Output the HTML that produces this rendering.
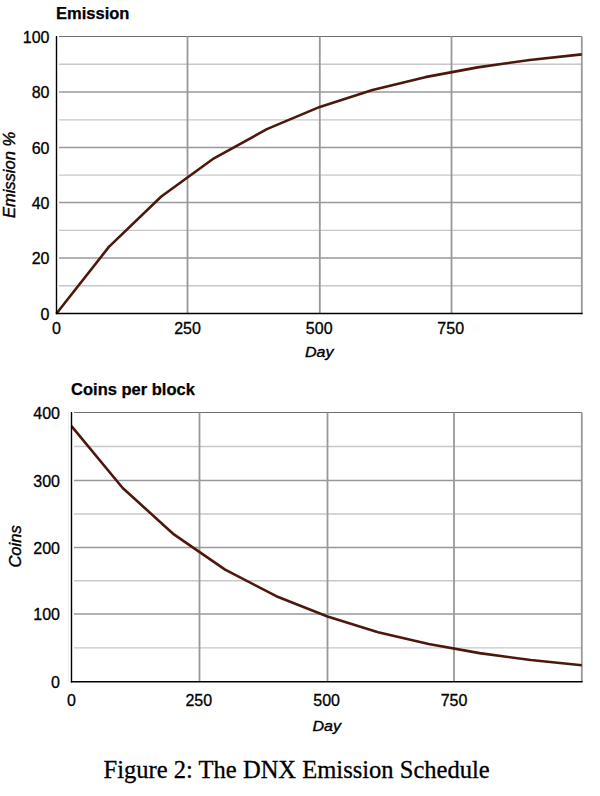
<!DOCTYPE html>
<html><head><meta charset="utf-8"><style>
html,body{margin:0;padding:0;background:#fff;}
body{width:600px;height:796px;overflow:hidden;position:relative;}
svg{position:absolute;left:0;top:0;}
.lab{font-family:"Liberation Sans",sans-serif;font-size:16px;fill:#000;stroke:#000;stroke-width:0.3;}
.it{font-family:"Liberation Sans",sans-serif;font-size:16px;font-style:italic;fill:#000;stroke:#000;stroke-width:0.4;}
.yt{font-size:16.5px;}
.ttl{font-family:"Liberation Sans",sans-serif;font-size:16.5px;font-weight:bold;fill:#000;stroke:#000;stroke-width:0.25;}
.cap{font-family:"Liberation Serif",serif;font-size:24.55px;fill:#000;stroke:#000;stroke-width:0.3;}
</style></head><body>
<svg width="600" height="796" viewBox="0 0 600 796">
<line x1="59.00" y1="285.75" x2="581.80" y2="285.75" stroke="#c8c8c8" stroke-width="1.3"/>
<line x1="59.00" y1="258.00" x2="581.80" y2="258.00" stroke="#989898" stroke-width="1.5"/>
<line x1="59.00" y1="230.30" x2="581.80" y2="230.30" stroke="#c8c8c8" stroke-width="1.3"/>
<line x1="59.00" y1="202.60" x2="581.80" y2="202.60" stroke="#989898" stroke-width="1.5"/>
<line x1="59.00" y1="175.10" x2="581.80" y2="175.10" stroke="#c8c8c8" stroke-width="1.3"/>
<line x1="59.00" y1="147.60" x2="581.80" y2="147.60" stroke="#989898" stroke-width="1.5"/>
<line x1="59.00" y1="119.80" x2="581.80" y2="119.80" stroke="#c8c8c8" stroke-width="1.3"/>
<line x1="59.00" y1="92.00" x2="581.80" y2="92.00" stroke="#989898" stroke-width="1.5"/>
<line x1="59.00" y1="64.25" x2="581.80" y2="64.25" stroke="#c8c8c8" stroke-width="1.3"/>
<line x1="59.00" y1="36.50" x2="581.80" y2="36.50" stroke="#707070" stroke-width="1.2"/>
<line x1="187.50" y1="36.50" x2="187.50" y2="313.50" stroke="#999999" stroke-width="1.8"/>
<line x1="319.80" y1="36.50" x2="319.80" y2="313.50" stroke="#999999" stroke-width="1.8"/>
<line x1="451.50" y1="36.50" x2="451.50" y2="313.50" stroke="#999999" stroke-width="1.8"/>
<line x1="581.80" y1="36.50" x2="581.80" y2="313.50" stroke="#999999" stroke-width="1.8"/>
<polyline points="56.50,313.50 108.90,246.92 161.30,196.44 213.96,158.32 266.88,129.15 319.80,106.89 372.48,89.97 425.16,77.14 477.56,67.39 529.68,59.97 581.80,54.34" fill="none" stroke="#4e170c" stroke-width="2.6" stroke-linejoin="round"/>
<line x1="56.50" y1="36.00" x2="56.50" y2="314.20" stroke="#000" stroke-width="1.4"/>
<line x1="55.80" y1="313.50" x2="582.70" y2="313.50" stroke="#000" stroke-width="1.4"/>
<text x="49.5" y="319.80" text-anchor="end" class="lab">0</text>
<text x="49.5" y="264.30" text-anchor="end" class="lab">20</text>
<text x="49.5" y="208.90" text-anchor="end" class="lab">40</text>
<text x="49.5" y="153.90" text-anchor="end" class="lab">60</text>
<text x="49.5" y="98.30" text-anchor="end" class="lab">80</text>
<text x="49.5" y="42.80" text-anchor="end" class="lab">100</text>
<text x="56.50" y="334" text-anchor="middle" class="lab">0</text>
<text x="187.50" y="334" text-anchor="middle" class="lab">250</text>
<text x="319.20" y="334" text-anchor="middle" class="lab">500</text>
<text x="450.70" y="334" text-anchor="middle" class="lab">750</text>
<text x="0" y="0" text-anchor="middle" class="it" transform="translate(319.15 357.3) scale(1 0.95)">Day</text>
<text x="56.1" y="18.7" class="ttl">Emission</text>
<text x="15" y="175.00" text-anchor="middle" class="it yt" transform="rotate(-90 15 175.00)">Emission %</text>
<line x1="68.50" y1="412.00" x2="68.50" y2="682.00" stroke="#efefef" stroke-width="1"/>
<line x1="74.00" y1="647.90" x2="581.80" y2="647.90" stroke="#c8c8c8" stroke-width="1.3"/>
<line x1="74.00" y1="614.00" x2="581.80" y2="614.00" stroke="#989898" stroke-width="1.5"/>
<line x1="74.00" y1="580.75" x2="581.80" y2="580.75" stroke="#c8c8c8" stroke-width="1.3"/>
<line x1="74.00" y1="547.50" x2="581.80" y2="547.50" stroke="#989898" stroke-width="1.5"/>
<line x1="74.00" y1="514.00" x2="581.80" y2="514.00" stroke="#c8c8c8" stroke-width="1.3"/>
<line x1="74.00" y1="480.50" x2="581.80" y2="480.50" stroke="#989898" stroke-width="1.5"/>
<line x1="74.00" y1="446.50" x2="581.80" y2="446.50" stroke="#c8c8c8" stroke-width="1.3"/>
<line x1="74.00" y1="412.50" x2="581.80" y2="412.50" stroke="#707070" stroke-width="1.2"/>
<line x1="199.50" y1="412.50" x2="199.50" y2="681.80" stroke="#999999" stroke-width="1.8"/>
<line x1="327.50" y1="412.50" x2="327.50" y2="681.80" stroke="#999999" stroke-width="1.8"/>
<line x1="454.00" y1="412.50" x2="454.00" y2="681.80" stroke="#999999" stroke-width="1.8"/>
<line x1="581.80" y1="412.50" x2="581.80" y2="681.80" stroke="#999999" stroke-width="1.8"/>
<polyline points="71.50,426.10 122.70,488.00 173.90,534.44 225.10,569.57 276.30,596.19 327.50,616.47 378.10,632.15 428.70,644.07 479.56,653.12 530.68,660.01 581.80,665.24" fill="none" stroke="#4e170c" stroke-width="2.6" stroke-linejoin="round"/>
<line x1="71.50" y1="412.00" x2="71.50" y2="682.50" stroke="#000" stroke-width="1.4"/>
<line x1="70.80" y1="681.80" x2="582.70" y2="681.80" stroke="#000" stroke-width="1.4"/>
<text x="60" y="688.10" text-anchor="end" class="lab">0</text>
<text x="60" y="620.30" text-anchor="end" class="lab">100</text>
<text x="60" y="553.80" text-anchor="end" class="lab">200</text>
<text x="60" y="486.80" text-anchor="end" class="lab">300</text>
<text x="60" y="418.80" text-anchor="end" class="lab">400</text>
<text x="71.50" y="705.5" text-anchor="middle" class="lab">0</text>
<text x="198.80" y="705.5" text-anchor="middle" class="lab">250</text>
<text x="326.60" y="705.5" text-anchor="middle" class="lab">500</text>
<text x="454.00" y="705.5" text-anchor="middle" class="lab">750</text>
<text x="0" y="0" text-anchor="middle" class="it" transform="translate(326.65 730.9) scale(1 0.95)">Day</text>
<text x="71.1" y="394.7" class="ttl">Coins per block</text>
<text x="21" y="546.45" text-anchor="middle" class="it yt" transform="rotate(-90 21 546.45)">Coins</text>
<text x="103.6" y="777.5" class="cap">Figure 2: The DNX Emission Schedule</text>
</svg>
</body></html>
